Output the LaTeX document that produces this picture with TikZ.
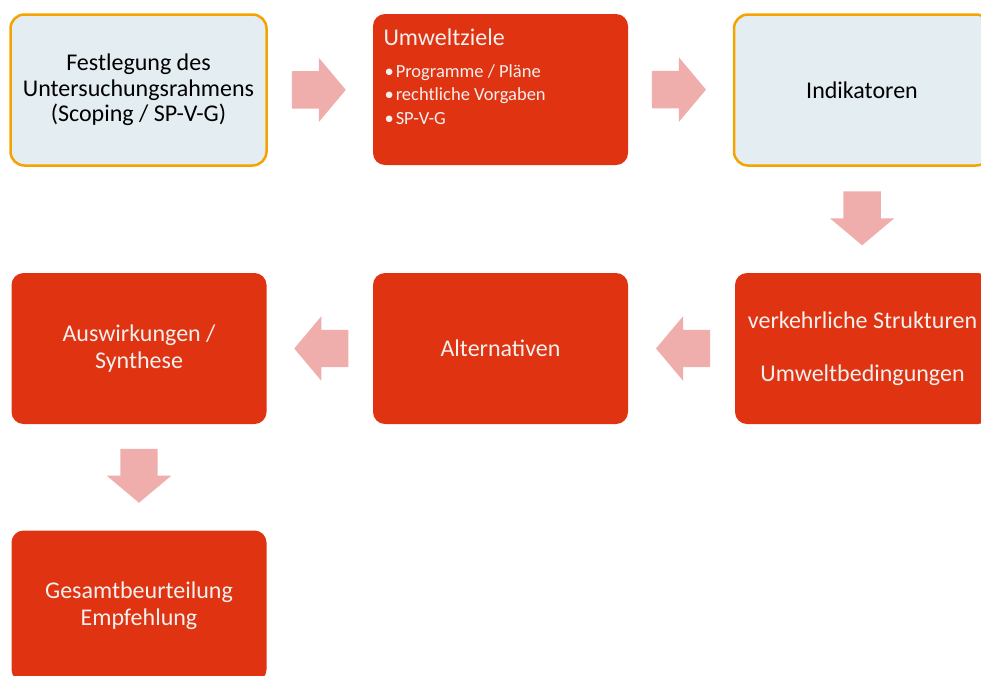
\documentclass[tikz,border=0pt]{standalone}
\usepackage{fontspec}
\setmainfont{Carlito}
\usetikzlibrary{shapes.arrows, calc, positioning}

\definecolor{boxred}{HTML}{DF3312}
\definecolor{boxblue}{HTML}{E4EDF2}
\definecolor{boxframe}{HTML}{F5A300}
\definecolor{arrowpink}{HTML}{EFADAC}
\definecolor{lighttext}{HTML}{F4F0EE}

\begin{document}
\begin{tikzpicture}[x=1pt, y=-1pt]
	\tikzstyle{bluebox} = [draw=boxframe, line width=2.5pt, fill=boxblue, rounded corners=14pt, minimum width=256pt, minimum height=151pt, align=center, text=black, font=\fontsize{24}{26}\selectfont]
	\tikzstyle{redbox} = [fill=boxred, rounded corners=12pt, minimum width=255pt, minimum height=151pt, align=center, text=lighttext, font=\fontsize{24}{27}\selectfont]
	\tikzstyle{blockarrow} = [single arrow, fill=arrowpink, inner xsep=0pt, inner ysep=18.5pt, minimum width=0pt, minimum height=54pt, single arrow head extend=13.5pt, single arrow tip angle=100, outer sep=0pt, anchor=tail]

	\useasboundingbox (0,0) rectangle (981,675);
	\clip (0,0) rectangle (981,675);

	% boxes
	\path
		node[bluebox] (scoping) at (138.5,90) {Festlegung des\\[-0.5pt]Untersuchungsrahmens\\[-0.5pt](Scoping / SP-V-G)}
		node[redbox] (ziele) at (500.5,89.5) {}
		node[bluebox] (indikatoren) at (862,90) {Indikatoren}
		node[redbox] (strukturen) at (862.5,348.5) {verkehrliche Strukturen\\[26pt]Umweltbedingungen}
		node[redbox] (alternativen) at (500.5,348.5) {Alternativen}
		node[redbox] (auswirkungen) at (139,348.5) {Auswirkungen /\\Synthese}
		node[redbox] (gesamt) at (139,606) {Gesamtbeurteilung\\Empfehlung}
	;

	% text of the Umweltziele box
	\node[anchor=base west, text=lighttext, font=\fontsize{24}{26}\selectfont] (zieltitel) at (380,45) {Umweltziele};
	\node[anchor=base west, text=lighttext, align=left, font=\fontsize{18.5}{23.5}\selectfont] (zielliste) at (381,124)
		{\textbullet\hspace{2pt}Programme / Pläne\\\textbullet\hspace{2pt}rechtliche Vorgaben\\\textbullet\hspace{2pt}SP-V-G};

	% arrows between the boxes
	\node[blockarrow] (a1) at ($(scoping.east)!0.5!(ziele.west)!28.5pt!(scoping.east)$) {};
	\node[blockarrow] (a2) at ($(ziele.east)!0.5!(indikatoren.west)!28.5pt!(ziele.east)$) {};
	\node[blockarrow, rotate=-90] (a3) at ($(indikatoren.south)!0.5!(strukturen.north)!28.5pt!(indikatoren.south)$) {};
	\node[blockarrow, rotate=180] (a4) at ($(strukturen.west)!0.5!(alternativen.east)!28.5pt!(strukturen.west)$) {};
	\node[blockarrow, rotate=180] (a5) at ($(alternativen.west)!0.5!(auswirkungen.east)!28.5pt!(alternativen.west)$) {};
	\node[blockarrow, rotate=-90] (a6) at ($(auswirkungen.south)!0.5!(gesamt.north)!28.5pt!(auswirkungen.south)$) {};
\end{tikzpicture}
\end{document}
